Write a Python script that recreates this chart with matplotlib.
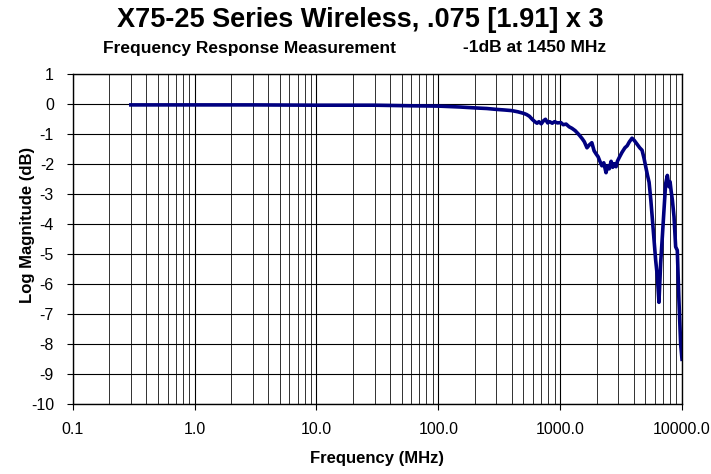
import matplotlib
matplotlib.use("Agg")
import matplotlib.pyplot as plt
from matplotlib.ticker import FixedLocator, FixedFormatter, LogLocator, NullFormatter

plt.rcParams['font.family'] = ['Liberation Sans', 'DejaVu Sans']
plt.rcParams['axes.unicode_minus'] = False

# frequency response (MHz, dB)
freq_mhz = [0.3, 1, 3, 10, 30, 60, 100, 150, 200, 250, 300, 350, 400, 450, 500,
            530, 560, 590, 620, 646, 670, 700, 730, 758, 790, 820, 861, 900, 950,
            1014, 1060, 1120, 1185, 1250, 1330, 1432, 1520, 1580, 1660, 1740, 1820,
            1900, 1970, 2050, 2120, 2200, 2280, 2380, 2450, 2530, 2620, 2700, 2780,
            2877, 2950, 3050, 3220, 3400, 3550, 3700, 3890, 4050, 4280, 4500, 4700,
            4880, 5050, 5200, 5370, 5550, 5680, 5890, 6080, 6280, 6470, 6680, 6900,
            7120, 7340, 7580, 7820, 7980, 8150, 8340, 8600, 8870, 9150, 9440, 9750,
            10000]
mag_db = [-0.02, -0.02, -0.02, -0.03, -0.03, -0.05, -0.06, -0.09, -0.12, -0.14,
          -0.17, -0.19, -0.21, -0.25, -0.30, -0.34, -0.40, -0.50, -0.58, -0.63,
          -0.58, -0.65, -0.55, -0.50, -0.62, -0.58, -0.63, -0.58, -0.62, -0.61,
          -0.68, -0.66, -0.75, -0.80, -0.88, -1.02, -1.15, -1.25, -1.45, -1.35,
          -1.28, -1.55, -1.65, -1.75, -1.90, -2.05, -1.95, -2.28, -2.05, -2.15,
          -1.90, -2.10, -1.98, -2.08, -1.90, -1.78, -1.60, -1.45, -1.38, -1.25,
          -1.13, -1.20, -1.33, -1.45, -1.53, -1.80, -2.10, -2.35, -2.60, -3.20,
          -3.70, -4.50, -5.20, -5.75, -6.60, -5.30, -4.40, -3.50, -2.65, -2.37,
          -2.75, -2.58, -2.90, -3.20, -3.75, -4.75, -4.87, -6.55, -8.00, -8.50]

x_ticks = [0.1, 1, 10, 100, 1000, 10000]
x_tick_labels = ["0.1", "1.0", "10.0", "100.0", "1000.0", "10000.0"]
y_ticks = list(range(-10, 2))

W, H = 711, 474
fig = plt.figure(figsize=(W / 100, H / 100), dpi=100)
ax = fig.add_axes([72.7 / W, 1 - 404.3 / H, (682 - 72.7) / W, (404.3 - 74.3) / H])

ax.plot(freq_mhz, mag_db, color="#000080", lw=2.6, solid_joinstyle="round")

ax.set_xscale("log")
ax.set_xlim(0.1, 10000)
ax.set_ylim(-10, 1)
ax.xaxis.set_major_locator(FixedLocator(x_ticks))
ax.xaxis.set_major_formatter(FixedFormatter(x_tick_labels))
ax.xaxis.set_minor_locator(LogLocator(base=10, subs=range(2, 10), numticks=20))
ax.xaxis.set_minor_formatter(NullFormatter())
ax.set_yticks(y_ticks)

ax.grid(which="major", color="black", lw=0.8)
ax.grid(which="minor", axis="x", color="#303030", lw=0.7)
ax.set_axisbelow(True)
ax.tick_params(which="major", direction="out", length=4.5, width=0.8,
               labelsize=11.5, colors="black")
ax.tick_params(axis="y", pad=9)
ax.tick_params(axis="x", pad=8)
ax.tick_params(which="minor", length=0)
for s in ax.spines.values():
    s.set_color("black")
    s.set_linewidth(1.0)

ax.set_xlabel("Frequency (MHz)", fontsize=12, fontweight="bold", labelpad=10)
fig.text(28 / W, 1 - 225 / H, "Log Magnitude (dB)", rotation=90, fontsize=12,
         fontweight="bold", ha="center", va="center")

fig.text(360 / W, 1 - 20 / H, "X75-25 Series Wireless, .075 [1.91] x 3",
         fontsize=19.5, fontweight="bold", ha="center", va="center")
fig.text(103 / W, 1 - 48 / H, "Frequency Response Measurement",
         fontsize=12.5, fontweight="bold", ha="left", va="center")
fig.text(463 / W, 1 - 48 / H, "-1dB at 1450 MHz",
         fontsize=12.5, fontweight="bold", ha="left", va="center")

fig.savefig("out.png", dpi=100)
